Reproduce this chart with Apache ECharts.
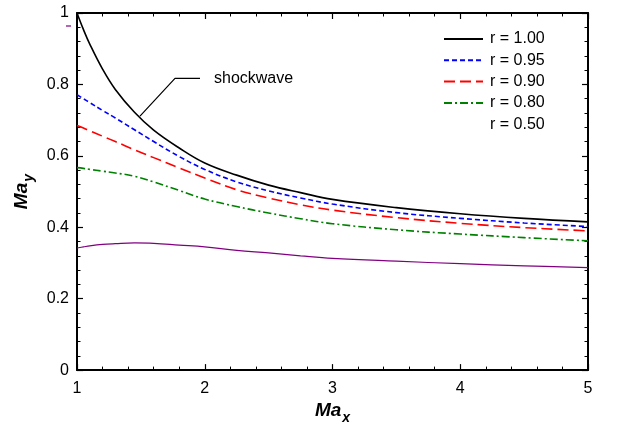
<!DOCTYPE html>
<html>
<head>
<meta charset="utf-8">
<script src="https://cdn.jsdelivr.net/npm/echarts@6/dist/echarts.min.js"></script>
<style>html,body{margin:0;padding:0;background:#fff;}#c{width:621px;height:430px;}</style>
</head>
<body>
<div id="c"></div>
<script>
// ---- data ----
const maX      = [1, 1.05, 1.1, 1.2, 1.3, 1.45, 1.6, 1.8, 2, 2.25, 2.5, 2.75, 3, 3.5, 4, 4.5, 5];
const r100     = [1.0, 0.954, 0.913, 0.843, 0.786, 0.722, 0.672, 0.622, 0.580, 0.546, 0.518, 0.497, 0.478, 0.455, 0.438, 0.425, 0.415];
const r095     = [0.771, 0.760, 0.749, 0.727, 0.706, 0.673, 0.640, 0.598, 0.562, 0.527, 0.502, 0.482, 0.465, 0.441, 0.425, 0.412, 0.402];
const r090     = [0.685, 0.678, 0.670, 0.655, 0.640, 0.617, 0.595, 0.566, 0.538, 0.505, 0.482, 0.463, 0.448, 0.427, 0.411, 0.399, 0.390];
const r080     = [0.567, 0.565, 0.562, 0.557, 0.552, 0.543, 0.527, 0.503, 0.479, 0.458, 0.440, 0.424, 0.410, 0.393, 0.381, 0.371, 0.362];
const r050     = [0.342, 0.345, 0.348, 0.352, 0.354, 0.356, 0.355, 0.350, 0.345, 0.335, 0.328, 0.320, 0.313, 0.305, 0.298, 0.292, 0.287];
const seriesNames = ['r = 1.00', 'r = 0.95', 'r = 0.90', 'r = 0.80', 'r = 0.50'];
const xTicks = [1, 2, 3, 4, 5];
const yTicks = [0, 0.2, 0.4, 0.6, 0.8, 1];
// annotation leader line (data coordinates)
const leaderX = [1.493, 1.767, 1.963];
const leaderY = [0.711, 0.817, 0.817];
const annotationText = 'shockwave';

const pairs = (ys) => maX.map((x, i) => [x, ys[i]]);
const FONT = '"Liberation Sans", Arial, sans-serif';

const chart = echarts.init(document.getElementById('c'), null, {renderer: 'canvas'});

const axisCommon = {
  axisLine: {show: true, onZero: false, lineStyle: {color: '#000', width: 2}},
  axisTick: {show: true, inside: true, length: 6, lineStyle: {color: '#000', width: 1.2}},
  minorTick: {show: true, splitNumber: 5, length: 3.5, lineStyle: {color: '#000', width: 1}},
  splitLine: {show: false},
};

const styles = [
  {color: '#000000', type: 'solid', width: 1.6},
  {color: '#0000ff', type: [5, 3], width: 1.6},
  {color: '#ff0000', type: [11, 5], width: 1.6},
  {color: '#008000', type: [8, 3, 2, 3], width: 1.6},
  {color: '#800080', type: 'solid', width: 1.2},
];
const dataSets = [r100, r095, r090, r080, r050];

const series = dataSets.map((d, i) => ({
  name: seriesNames[i],
  type: 'line',
  data: pairs(d),
  symbol: 'none',
  smooth: 0.4,
  lineStyle: styles[i],
  itemStyle: {color: styles[i].color},
  z: 5 - i,
  silent: true,
}));

series.push({
  name: 'leader',
  type: 'line',
  data: leaderX.map((x, i) => [x, leaderY[i]]),
  symbol: 'none',
  lineStyle: {color: '#000', width: 1.2},
  silent: true,
  endLabel: {
    show: true,
    formatter: annotationText,
    color: '#000',
    fontFamily: FONT,
    fontSize: 16,
    distance: 14,
  },
});

chart.setOption({
  animation: false,
  backgroundColor: '#fff',
  grid: {left: 77, right: 33, top: 13, bottom: 57, containLabel: false},
  legend: {
    orient: 'vertical',
    left: 443,
    top: 31,
    padding: 0,
    itemWidth: 39,
    itemHeight: 14,
    itemGap: 5.3,
    itemStyle: {color: 'transparent', borderWidth: 0, opacity: 0},
    textStyle: {fontFamily: FONT, fontSize: 16, color: '#000', padding: [0, 0, 0, 2]},
    data: seriesNames.map((n, i) => i === 4 ? {name: n, icon: 'none'} : {name: n}),
    selectedMode: false,
  },
  xAxis: [
    Object.assign({}, axisCommon, {
      type: 'value', min: 1, max: 5, interval: 1, position: 'bottom',
      axisLabel: {
        show: true, margin: 10, color: '#000', fontFamily: FONT, fontSize: 16,
        customValues: xTicks, formatter: (v) => String(v)
      },
      name: '{a|Ma}{b|x}',
      nameLocation: 'middle',
      nameGap: 30,
      nameTextStyle: {
        rich: {
          a: {fontFamily: FONT, fontSize: 19, fontWeight: 'bold', fontStyle: 'italic', color: '#000', verticalAlign: 'bottom'},
          b: {fontFamily: FONT, fontSize: 14, fontWeight: 'bold', fontStyle: 'italic', color: '#000', verticalAlign: 'bottom', padding: [0, 0, -5, 1]}
        }
      }
    }),
    Object.assign({}, axisCommon, {
      type: 'value', min: 1, max: 5, interval: 1, position: 'top',
      axisLabel: {show: false}
    })
  ],
  yAxis: [
    Object.assign({}, axisCommon, {
      type: 'value', min: 0, max: 1, interval: 0.2, position: 'left',
      axisLabel: {
        show: true, margin: 8, color: '#000', fontFamily: FONT, fontSize: 16,
        customValues: yTicks, formatter: (v) => String(Math.round(v * 10) / 10)
      },
      name: '{a|Ma}{b|y}',
      nameLocation: 'middle',
      nameGap: 46,
      nameRotate: 90,
      nameTextStyle: {
        rich: {
          a: {fontFamily: FONT, fontSize: 19, fontWeight: 'bold', fontStyle: 'italic', color: '#000', verticalAlign: 'bottom'},
          b: {fontFamily: FONT, fontSize: 14, fontWeight: 'bold', fontStyle: 'italic', color: '#000', verticalAlign: 'bottom', padding: [0, 0, -5, 1]}
        }
      }
    }),
    Object.assign({}, axisCommon, {
      type: 'value', min: 0, max: 1, interval: 0.2, position: 'right',
      axisLabel: {show: false}
    })
  ],
  graphic: [
    {type: 'line', shape: {x1: 66, y1: 26, x2: 71, y2: 26}, style: {stroke: '#800080', lineWidth: 1.2}}
  ],
  series: series
});
</script>
</body>
</html>
